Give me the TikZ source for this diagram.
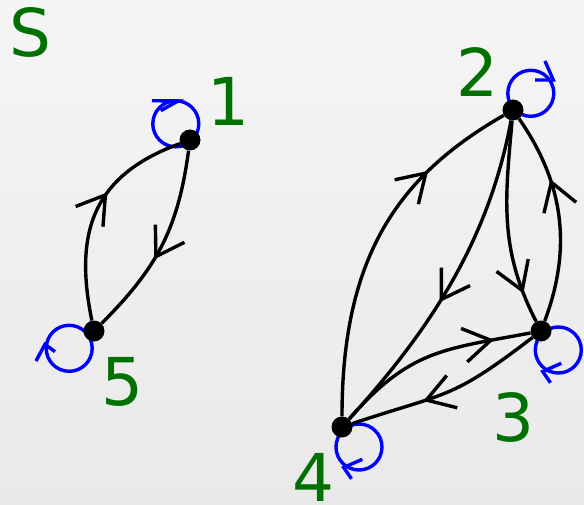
\documentclass[tikz,border=0pt]{standalone}
\usepackage{fontspec}
\setmainfont{DejaVu Sans}
\usetikzlibrary{arrows.meta,decorations.markings}
\definecolor{lblgreen}{RGB}{0,112,0}
\definecolor{loopblue}{RGB}{0,0,255}
\definecolor{bgtop}{RGB}{245,245,245}
\definecolor{bgbot}{RGB}{233,233,233}
\pgfdeclarelayer{back}
\pgfdeclarelayer{mid}
\pgfsetlayers{back,mid,main}
\begin{document}
\begin{tikzpicture}[x=1pt,y=-1pt,
  dot/.style={circle,fill=black,inner sep=0pt,minimum size=21pt},
  edge/.style={line width=3.4pt,draw=black},
  lbl/.style={text=lblgreen,font=\fontsize{66}{66}\selectfont,inner sep=0pt},
  loopline/.style={draw=loopblue,line width=3.4pt},
  looptip/.style={draw=loopblue,line width=3.4pt,line join=miter},
  midarrow/.style={postaction={decorate},decoration={markings,mark=at position #1 with {\arrow{Straight Barb[length=27pt,width=34pt]}}}}
]
\begin{pgfonlayer}{back}
\fill[top color=bgtop,bottom color=bgbot] (0,0) rectangle (584,505);
\end{pgfonlayer}
\useasboundingbox (0,0) rectangle (584,505);

% nodes
\node[dot] (n1) at (190,140) {};
\node[dot] (n5) at (94,331) {};
\node[dot] (n2) at (513,110) {};
\node[dot] (n3) at (541,331) {};
\node[dot] (n4) at (342,427) {};

% labels
\node[lbl] (ls) at (30,32) {S};
\node[lbl] (l1) at (228,101) {1};
\node[lbl] (l5) at (122,382) {5};
\node[lbl] (l2) at (477,72) {2};
\node[lbl] (l3) at (513,417) {3};
\node[lbl] (l4) at (313,477) {4};

\begin{pgfonlayer}{mid}
% loops
\path[loopline] ([shift={(-14.2,-16.2)}]n1.center) circle[radius=23];
\path[loopline] ([shift={(-24.8,17.3)}]n5.center) circle[radius=23];
\path[loopline] ([shift={(17.8,-16.7)}]n2.center) circle[radius=23];
\path[loopline] ([shift={(17.3,19)}]n3.center) circle[radius=23];
\path[loopline] ([shift={(17,20)}]n4.center) circle[radius=23];
% loop arrowheads
\begin{scope}[shift={(n1.center)}]
  \draw[looptip] (-38,-39.3) -- (-12,-39) -- (-29.3,-29.3);
\end{scope}
\begin{scope}[shift={(n5.center)}]
  \draw[looptip] (-58,30) -- (-49,13.3) -- (-39,20.7);
\end{scope}
\begin{scope}[shift={(n2.center)}]
  \draw[looptip] (32,-49) -- (40.3,-30) -- (22,-30);
\end{scope}
\begin{scope}[shift={(n3.center)}]
  \draw[looptip] (20.3,32.3) -- (1.7,40.5) -- (9.5,51.8);
\end{scope}
\begin{scope}[shift={(n4.center)}]
  \draw[looptip] (20.3,32.3) -- (1.7,40.5) -- (9.5,51.8);
\end{scope}

% edges
\draw[edge,midarrow=0.6] (n5) .. controls (74.4,235.2) and (90.4,176) .. (n1);
\draw[edge,midarrow=0.58] (n1) .. controls (178,229) and (157,268) .. (n5);
\draw[edge,midarrow=0.74] (n4) .. controls (342,254) and (400,175) .. (n2);
\draw[edge,midarrow=0.57] (n2) .. controls (488.7,241) and (429.8,330.1) .. (n4);
\draw[edge,midarrow=0.85] (n2) .. controls (505.2,199) and (498.7,248.4) .. (n3);
\draw[edge,midarrow=0.68] (n3) .. controls (572.2,247.5) and (563.8,183.1) .. (n2);
\draw[edge,midarrow=0.82] (n4) .. controls (409.9,349.8) and (442.3,349.5) .. (n3);
\draw[edge,midarrow=0.63] (n3) .. controls (450.3,400.3) and (449,391.4) .. (n4);
\end{pgfonlayer}
\end{tikzpicture}
\end{document}
